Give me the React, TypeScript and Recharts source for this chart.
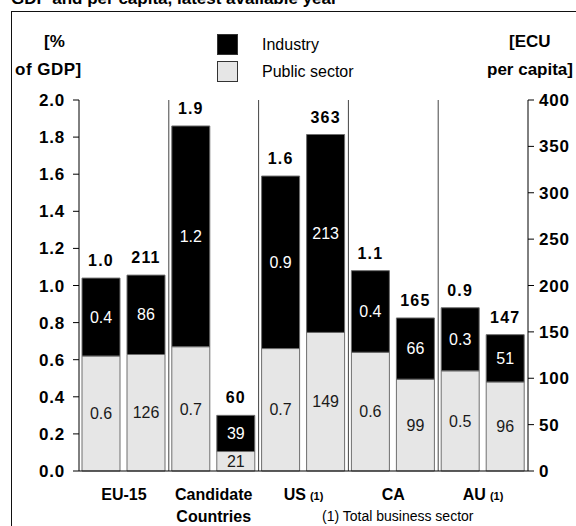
import React from "react"
import {
  Bar,
  CartesianGrid,
  ComposedChart,
  LabelList,
  XAxis,
  YAxis,
} from "recharts"

// Regions, two bars each: % of GDP (left axis) and ECU per capita (right axis)
const groups = ["EU-15", "Candidate Countries", "US", "CA", "AU"]
const groupLines = [["EU-15"], ["Candidate", "Countries"], ["US"], ["CA"], ["AU"]]
const groupNote = [false, false, true, false, true]

const pctPublic = [0.62, 0.67, 0.66, 0.64, 0.54]
const pctIndustry = [0.42, 1.19, 0.93, 0.44, 0.34]
const ecuPublic = [125.6, 21, 149.4, 99, 96]
const ecuIndustry = [85.6, 39, 213.4, 66, 51]

const pctTicks = [0, 0.2, 0.4, 0.6, 0.8, 1.0, 1.2, 1.4, 1.6, 1.8, 2.0]
const ecuTicks = [0, 50, 100, 150, 200, 250, 300, 350, 400]

const series = [
  { name: "Industry", color: "#000000" },
  { name: "Public sector", color: "#e6e6e6" },
]

const FONT = '"Liberation Sans", Arial, Helvetica, sans-serif'
const INK = "#000"
const OUTLINE = "#6e6e6e"

const data = groups.map((group, i) => ({
  group,
  pctPublic: pctPublic[i],
  pctIndustry: pctIndustry[i],
  pctTotal: pctPublic[i] + pctIndustry[i],
  ecuPublic: ecuPublic[i],
  ecuIndustry: ecuIndustry[i],
  ecuTotal: ecuPublic[i] + ecuIndustry[i],
}))

const fmtPct = (v: any) => Number(v).toFixed(1)
const fmtEcu = (v: any) => String(Math.round(Number(v)))

// vertical dividers on the inner band edges (category axis has no padding)
const groupDividers = ({ xAxis, offset }: any) => {
  const scale = xAxis && xAxis.scale
  return groups.slice(1).map((g, k) => {
    const start = typeof scale === "function" ? scale(g) : undefined
    return typeof start === "number"
      ? start
      : offset.left + ((k + 1) * offset.width) / groups.length
  })
}

const GroupTick = (props: any) => {
  const { x, y, payload } = props
  const i = groups.indexOf(payload.value)
  const lines = groupLines[i] || [payload.value]
  return (
    <text
      x={x}
      y={y}
      textAnchor="middle"
      fontFamily={FONT}
      fontWeight={700}
      fontSize={16}
      fill={INK}
    >
      {lines.map((line, k) => (
        <tspan key={line} x={x} dy={k === 0 ? 29 : 22}>
          {line}
          {k === 0 && groupNote[i] && (
            <tspan fontSize={11} dx={4}>
              (1)
            </tspan>
          )}
        </tspan>
      ))}
    </text>
  )
}

const boldTick = {
  fill: INK,
  fontSize: 17,
  fontWeight: 700,
  fontFamily: FONT,
  letterSpacing: 0.8,
}

const abs = (left: number, top: number, extra: React.CSSProperties = {}) =>
  ({ position: "absolute", left, top, whiteSpace: "nowrap", ...extra }) as React.CSSProperties

const axisTitle = { fontSize: 17, fontWeight: 700, lineHeight: "20px" }

export default function App() {
  return (
    <div
      style={{
        position: "absolute",
        left: 0,
        top: 0,
        width: 576,
        height: 526,
        overflow: "hidden",
        background: "#fff",
        fontFamily: FONT,
        color: INK,
      }}
    >
      <div style={abs(11, -10, { fontSize: 17, fontWeight: 700, lineHeight: "18px" })}>
        GDP and per capita, latest available year
      </div>
      <div
        style={abs(11, 11, {
          width: 620,
          height: 620,
          border: "1.5px solid #111",
        })}
      />

      <ComposedChart
        width={576}
        height={526}
        data={data}
        margin={{ top: 100, right: 0, bottom: 0, left: 0 }}
        barSize={38}
        barGap={7}
        style={{ position: "absolute", left: 0, top: 0 }}
      >
        <CartesianGrid
          xAxisId="cat"
          yAxisId="pct"
          horizontal={false}
          vertical
          stroke="#444"
          strokeWidth={1}
          verticalCoordinatesGenerator={groupDividers}
        />
        <XAxis
          xAxisId="cat"
          dataKey="group"
          height={55}
          axisLine={{ stroke: INK }}
          tickLine={false}
          tickSize={0}
          tickMargin={0}
          interval={0}
          tick={<GroupTick />}
        />
        <YAxis
          yAxisId="pct"
          orientation="left"
          width={79}
          domain={[0, 2]}
          ticks={pctTicks}
          tickFormatter={fmtPct}
          axisLine={{ stroke: INK }}
          tickLine={{ stroke: INK }}
          tickSize={6}
          tickMargin={8}
          tick={boldTick}
        />
        <YAxis
          yAxisId="ecu"
          orientation="right"
          width={48}
          domain={[0, 400]}
          ticks={ecuTicks}
          axisLine={{ stroke: INK }}
          tickLine={{ stroke: INK }}
          tickSize={6}
          tickMargin={5}
          tick={boldTick}
        />

        <Bar
          xAxisId="cat"
          yAxisId="pct"
          dataKey="pctPublic"
          name={series[1].name}
          stackId="pct"
          fill={series[1].color}
          stroke={OUTLINE}
          isAnimationActive={false}
        >
          <LabelList
            dataKey="pctPublic"
            position="center"
            formatter={fmtPct}
            fill="#1a1a1a"
            fontSize={16}
            fontFamily={FONT}
          />
        </Bar>
        <Bar
          xAxisId="cat"
          yAxisId="pct"
          dataKey="pctIndustry"
          name={series[0].name}
          stackId="pct"
          fill={series[0].color}
          stroke={OUTLINE}
          isAnimationActive={false}
        >
          <LabelList
            dataKey="pctIndustry"
            position="center"
            formatter={fmtPct}
            fill="#fff"
            fontSize={16}
            fontFamily={FONT}
          />
          <LabelList
            dataKey="pctTotal"
            position="top"
            offset={12}
            formatter={fmtPct}
            fill={INK}
            fontSize={16}
            fontWeight={700}
            fontFamily={FONT}
            letterSpacing={1.2}
          />
        </Bar>
        <Bar
          xAxisId="cat"
          yAxisId="ecu"
          dataKey="ecuPublic"
          name={series[1].name}
          stackId="ecu"
          fill={series[1].color}
          stroke={OUTLINE}
          isAnimationActive={false}
        >
          <LabelList
            dataKey="ecuPublic"
            position="center"
            formatter={fmtEcu}
            fill="#1a1a1a"
            fontSize={16}
            fontFamily={FONT}
          />
        </Bar>
        <Bar
          xAxisId="cat"
          yAxisId="ecu"
          dataKey="ecuIndustry"
          name={series[0].name}
          stackId="ecu"
          fill={series[0].color}
          stroke={OUTLINE}
          isAnimationActive={false}
        >
          <LabelList
            dataKey="ecuIndustry"
            position="center"
            formatter={fmtEcu}
            fill="#fff"
            fontSize={16}
            fontFamily={FONT}
          />
          <LabelList
            dataKey="ecuTotal"
            position="top"
            offset={12}
            formatter={fmtEcu}
            fill={INK}
            fontSize={16}
            fontWeight={700}
            fontFamily={FONT}
            letterSpacing={1.2}
          />
        </Bar>
      </ComposedChart>

      {/* legend */}
      {series.map((s, i) => (
        <React.Fragment key={s.name}>
          <div
            style={abs(217, 34 + i * 27, {
              width: 21,
              height: 21,
              background: s.color,
              border: "1px solid #333",
              boxSizing: "border-box",
            })}
          />
          <div style={abs(262, 35 + i * 27, { fontSize: 16, lineHeight: "20px" })}>
            {s.name}
          </div>
        </React.Fragment>
      ))}

      {/* axis titles */}
      <div style={abs(44, 32, axisTitle)}>[%</div>
      <div style={abs(15, 60, { ...axisTitle, letterSpacing: 0.5 })}>of GDP]</div>
      <div style={abs(509, 32, axisTitle)}>[ECU</div>
      <div style={abs(487, 60, axisTitle)}>per capita]</div>

      <div style={abs(322, 507, { fontSize: 14, lineHeight: "18px" })}>
        (1) Total business sector
      </div>
    </div>
  )
}
